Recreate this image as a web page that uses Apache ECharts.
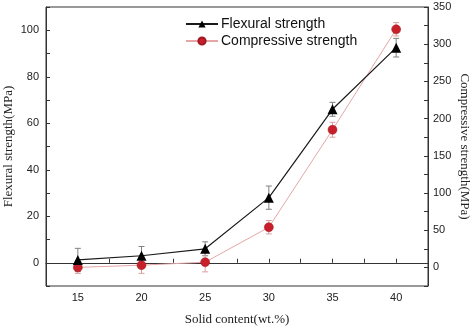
<!DOCTYPE html>
<html>
<head>
<meta charset="utf-8">
<script src="https://cdn.jsdelivr.net/npm/echarts@6/dist/echarts.min.js"></script>
<style>html,body{margin:0;padding:0;background:#fff}#c{width:474px;height:326px}</style>
</head>
<body>
<div id="c"></div>
<script>
const solidContent = [15, 20, 25, 30, 35, 40];
const flexural = [1.2, 3, 6, 28, 66, 92.5];
const flexuralErr = [5, 4, 3, 5, 3, 4];
const compressive = [0, 3, 7, 54, 185, 320];
const compressiveErr = [8, 11, 13, 9, 10, 9];

const chart = echarts.init(document.getElementById('c'));

function errSeries(name, vals, errs, yIdx, color) {
  return {
    type: 'custom',
    name: name,
    xAxisIndex: 0,
    yAxisIndex: yIdx,
    z: 1,
    silent: true,
    data: solidContent.map((x, i) => [x, vals[i] - errs[i], vals[i] + errs[i]]),
    renderItem: function (params, api) {
      const lo = api.coord([api.value(0), api.value(1)]);
      const hi = api.coord([api.value(0), api.value(2)]);
      const w = 3;
      const st = { stroke: color, lineWidth: 1 };
      return {
        type: 'group',
        children: [
          { type: 'line', shape: { x1: lo[0], y1: lo[1], x2: hi[0], y2: hi[1] }, style: st },
          { type: 'line', shape: { x1: lo[0] - w, y1: lo[1], x2: lo[0] + w, y2: lo[1] }, style: st },
          { type: 'line', shape: { x1: hi[0] - w, y1: hi[1], x2: hi[0] + w, y2: hi[1] }, style: st }
        ]
      };
    }
  };
}

const axisLineStyle = { color: '#333', width: 1 };
const labelFont = { fontFamily: 'Liberation Sans', fontSize: 11, color: '#222' };
const nameFont = { fontFamily: 'Liberation Serif', fontSize: 13, color: '#222' };

chart.setOption({
  animation: false,
  backgroundColor: '#fff',
  grid: { left: 46, right: 46, top: 7, bottom: 40, show: true, borderColor: '#333', borderWidth: 1, containLabel: false, outerBoundsMode: 'none' },
  legend: {
    data: ['Flexural strength', 'Compressive strength'],
    orient: 'vertical',
    left: 185,
    top: 17,
    padding: 0,
    itemWidth: 32,
    itemHeight: 9,
    itemGap: 3,
    textStyle: { fontFamily: 'Liberation Sans', fontSize: 14, color: '#111', padding: [0, 0, 0, -2] }
  },
  xAxis: {
    type: 'value',
    min: 12.5,
    max: 42.5,
    interval: 2.5,
    name: 'Solid content(wt.%)',
    nameLocation: 'middle',
    nameGap: 27,
    nameMoveOverlap: false,
    nameTextStyle: nameFont,
    axisLine: { lineStyle: axisLineStyle },
    axisTick: { inside: true, length: 4, lineStyle: axisLineStyle },
    axisLabel: Object.assign({ margin: 6, formatter: v => (v % 5 === 0 ? String(v) : '') }, labelFont),
    splitLine: { show: false }
  },
  yAxis: [
    {
      type: 'value',
      position: 'left',
      min: -10,
      max: 110,
      interval: 10,
      name: 'Flexural strength(MPa)',
      nameLocation: 'middle',
      nameGap: 31,
      nameMoveOverlap: false,
      nameTextStyle: nameFont,
      axisLine: { show: true, lineStyle: axisLineStyle },
      axisTick: { show: true, inside: true, length: 4, lineStyle: axisLineStyle },
      axisLabel: Object.assign({ margin: 7, formatter: v => (v % 20 === 0 && v >= 0 && v <= 100 ? String(v) : '') }, labelFont),
      splitLine: { show: false }
    },
    {
      type: 'value',
      position: 'right',
      min: -25,
      max: 350,
      interval: 25,
      name: 'Compressive strength(MPa)',
      nameLocation: 'middle',
      nameRotate: -90,
      nameGap: 30,
      nameMoveOverlap: false,
      nameTextStyle: nameFont,
      axisLine: { show: true, lineStyle: axisLineStyle },
      axisTick: { show: true, inside: true, length: 4, lineStyle: axisLineStyle },
      axisLabel: Object.assign({ margin: 5, formatter: v => (v % 50 === 0 && v >= 0 ? String(v) : '') }, labelFont),
      splitLine: { show: false }
    }
  ],
  series: [
    errSeries('flexErr', flexural, flexuralErr, 0, '#808080'),
    errSeries('compErr', compressive, compressiveErr, 1, '#d9a0a0'),
    {
      type: 'line',
      name: 'Flexural strength',
      yAxisIndex: 0,
      z: 3,
      data: solidContent.map((x, i) => [x, flexural[i]]),
      symbol: 'triangle',
      symbolSize: 10,
      itemStyle: { color: '#000' },
      lineStyle: { color: '#1a1a1a', width: 1.2 }
    },
    {
      type: 'line',
      name: 'Compressive strength',
      yAxisIndex: 1,
      z: 2,
      data: solidContent.map((x, i) => [x, compressive[i]]),
      symbol: 'circle',
      symbolSize: 9,
      itemStyle: { color: '#c8202a', borderColor: '#a01820', borderWidth: 0.5 },
      lineStyle: { color: '#e6a6a8', width: 1 }
    }
  ]
});
</script>
</body>
</html>
